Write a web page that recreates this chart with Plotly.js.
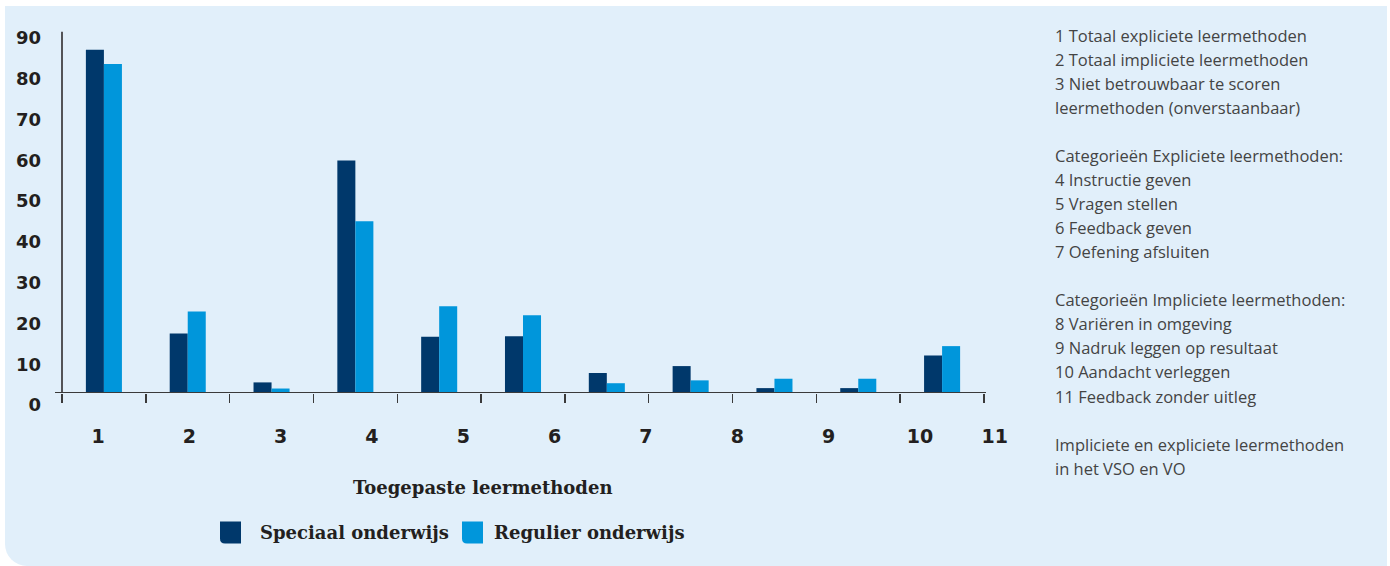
<!DOCTYPE html>
<html>
<head>
<meta charset="utf-8">
<script src="https://cdn.plot.ly/plotly-3.0.1.min.js"></script>
<style>
  html, body { margin: 0; padding: 0; background: #ffffff; }
  #bg { position: absolute; left: 5px; top: 6px; width: 1382px; height: 560px;
        background: #e1effa; border-bottom-left-radius: 22px; }
  #chart { position: absolute; left: 0; top: 0; width: 1390px; height: 566px; }
</style>
</head>
<body>
<div id="bg"></div>
<div id="chart"></div>
<script>
// ---- data ----
const categories = ['1', '2', '3', '4', '5', '6', '7', '8', '9', '10', '11'];
const speciaal = [84.2, 14.6, 2.6, 57.0, 13.8, 13.9, 4.9, 6.6, 1.2, 1.2, 9.2];
const regulier = [80.7, 20.0, 1.1, 42.1, 21.3, 19.1, 2.4, 3.1, 3.5, 3.5, 11.5];
const seriesNames = ['Speciaal onderwijs', 'Regulier onderwijs'];
const xTickLabels = ['1', '2', '3', '4', '5', '6', '7', '8', '9', '10', '11'];
const xTickSlots = [1, 2, 3, 4, 5, 6, 7, 8, 9, 10, 10.82];
const yTickVals = [0, 10, 20, 30, 40, 50, 60, 70, 80, 90];
const xTitle = 'Toegepaste leermethoden';
const notes = [
  '1 Totaal expliciete leermethoden',
  '2 Totaal impliciete leermethoden',
  '3 Niet betrouwbaar te scoren',
  'leermethoden (onverstaanbaar)',
  '',
  'Categorieën Expliciete leermethoden:',
  '4 Instructie geven',
  '5 Vragen stellen',
  '6 Feedback geven',
  '7 Oefening afsluiten',
  '',
  'Categorieën Impliciete leermethoden:',
  '8 Variëren in omgeving',
  '9 Nadruk leggen op resultaat',
  '10 Aandacht verleggen',
  '11 Feedback zonder uitleg',
  '',
  'Impliciete en expliciete leermethoden',
  'in het VSO en VO'
];

// ---- styling / geometry ----
const DARK = '#00386b', LIGHT = '#0096db', INK = '#231f20';
const W = 1390, H = 566;
const ML = 62, MR = 380, MT = 22.2, MB = 173.3;
const PW = W - ML - MR, PH = H - MT - MB;
const px = x => (x - ML) / PW;
const py = y => (H - MB - y) / PH;
const numFont = { family: 'DejaVu Sans', size: 18, color: INK, weight: 700 };
const slabFont = { family: 'DejaVu Serif', size: 18, color: INK, weight: 700 };

function roundedBL(x0, y0, x1, y1, r) {
  const P = (x, y) => px(x).toFixed(5) + ',' + py(y).toFixed(5);
  return 'M' + P(x0, y0) + ' L' + P(x1, y0) + ' L' + P(x1, y1) + ' L' + P(x0 + r, y1) +
         ' Q' + P(x0, y1) + ' ' + P(x0, y1 - r) + ' Z';
}

const traces = [
  { type: 'bar', x: categories, y: speciaal, name: seriesNames[0],
    marker: { color: DARK, line: { width: 0 } }, showlegend: false },
  { type: 'bar', x: categories, y: regulier, name: seriesNames[1],
    marker: { color: LIGHT, line: { width: 0 } }, showlegend: false },
  { type: 'scatter', x: [], y: [], xaxis: 'x2', yaxis: 'y', showlegend: false, hoverinfo: 'skip' }
];

const annotations = [];
annotations.push({ xref: 'paper', yref: 'paper', x: px(482.5), y: py(486.7),
  xanchor: 'center', yanchor: 'middle', text: xTitle, showarrow: false, font: slabFont });
annotations.push({ xref: 'paper', yref: 'paper', x: px(258), y: py(532),
  xanchor: 'left', yanchor: 'middle', text: seriesNames[0], showarrow: false, font: slabFont });
annotations.push({ xref: 'paper', yref: 'paper', x: px(492), y: py(532),
  xanchor: 'left', yanchor: 'middle', text: seriesNames[1], showarrow: false, font: slabFont });
notes.forEach((t, i) => {
  if (!t) return;
  annotations.push({ xref: 'paper', yref: 'paper', x: px(1053), y: py(35.7 + i * 24),
    xanchor: 'left', yanchor: 'middle', text: t, showarrow: false,
    font: { family: 'Open Sans', size: 16.5, color: '#444444' } });
});

const layout = {
  width: W, height: H,
  margin: { l: ML, r: MR, t: MT, b: MB, pad: 0 },
  paper_bgcolor: 'rgba(0,0,0,0)', plot_bgcolor: 'rgba(0,0,0,0)',
  barmode: 'group', bargap: 0.57, bargroupgap: 0,
  showlegend: false,
  xaxis: { type: 'category', domain: [0, 922 / PW], range: [-0.5, 10.5],
    showline: false, showgrid: false, zeroline: false,
    ticks: 'outside', tickson: 'boundaries', ticklen: 9, tickwidth: 1.5, tickcolor: '#3a3a3a',
    showticklabels: false, fixedrange: true },
  xaxis2: { anchor: 'y', domain: [0, 1], range: [0.6058, 10.986],
    tickmode: 'array', tickvals: xTickSlots, ticktext: xTickLabels,
    showline: false, showgrid: false, zeroline: false, ticks: '',
    tickfont: { family: 'DejaVu Sans', size: 19, color: INK, weight: 700 },
    ticklabelstandoff: 30, fixedrange: true },
  yaxis: { range: [0, 91], anchor: 'x', showline: false, showgrid: false, zeroline: false,
    ticks: '', tickmode: 'array', tickvals: yTickVals, tickfont: numFont,
    ticklabelshift: 12, ticklabelstandoff: 20, fixedrange: true },
  shapes: [
    { type: 'line', xref: 'paper', yref: 'y', x0: 0, x1: 0, y0: 0, y1: 88.6,
      line: { color: INK, width: 1.5 } },
    { type: 'line', xref: 'paper', yref: 'y', x0: px(55), x1: px(986), y0: 0, y1: 0,
      line: { color: '#3a3a3a', width: 2 } },
    { type: 'path', xref: 'paper', yref: 'paper', path: roundedBL(220, 521, 241, 543, 5),
      fillcolor: DARK, line: { width: 0 } },
    { type: 'path', xref: 'paper', yref: 'paper', path: roundedBL(462, 521, 483, 543, 5),
      fillcolor: LIGHT, line: { width: 0 } }
  ],
  annotations: annotations
};

Plotly.newPlot('chart', traces, layout, { displayModeBar: false, staticPlot: true });
</script>
</body>
</html>
